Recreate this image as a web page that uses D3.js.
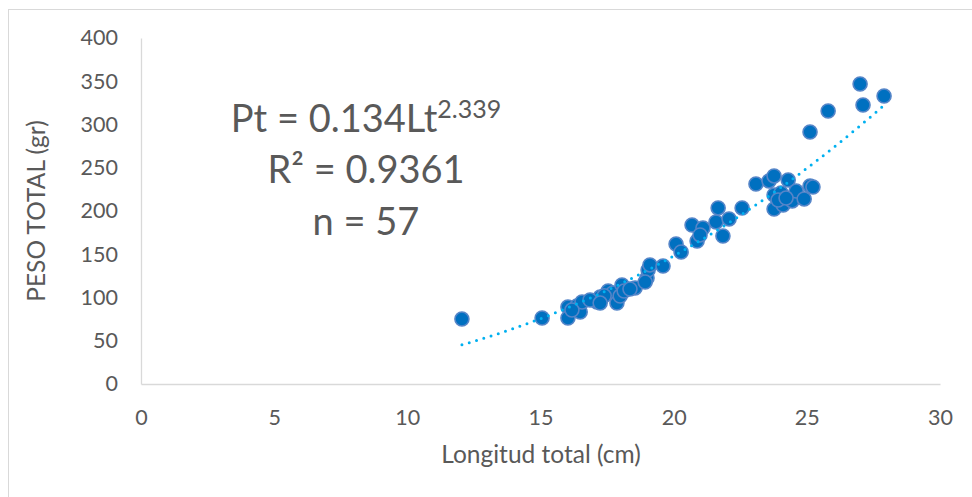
<!DOCTYPE html>
<html>
<head>
<meta charset="utf-8">
<script src="https://cdn.jsdelivr.net/npm/d3@7"></script>
<style>
  body { margin: 0; background: #fff; }
  text { font-family: Lato, "Open Sans", sans-serif; fill: #595959; }
</style>
</head>
<body>
<div id="chart"></div>
<script>
// longitud total (cm) and peso total (gr)
const longitud = [12.05, 15.06, 16.03, 16.03, 16.37, 16.49, 16.56, 17.12, 17.24, 17.54,
  17.72, 17.87, 17.99, 18.06, 18.14, 18.55, 19.0, 19.04, 19.11, 19.6,
  20.09, 20.28, 20.69, 20.88, 21.1, 21.59, 21.67, 21.85, 22.08, 22.57,
  23.09, 23.58, 23.77, 23.77, 23.77, 24.03, 24.11, 24.3, 24.45, 24.6,
  24.9, 25.12, 25.23, 25.12, 25.8, 27.0, 27.11, 27.9,
  16.18, 16.86, 17.39, 18.36, 18.93, 20.99, 23.92, 24.22, 17.24]
const peso = [75.1, 76.3, 89.0, 76.3, 90.2, 83.2, 94.8, 94.8, 100.6, 107.5,
  105.2, 93.6, 101.7, 114.5, 107.5, 111.0, 122.5, 131.8, 137.6, 136.4,
  161.8, 152.6, 183.8, 165.3, 180.3, 187.3, 203.5, 171.1, 190.8, 203.5,
  231.2, 234.7, 240.5, 202.3, 218.5, 220.8, 206.9, 235.8, 211.6, 223.1,
  213.9, 228.9, 227.7, 291.3, 315.6, 346.8, 322.5, 332.9,
  85.5, 97.1, 102.0, 109.8, 117.9, 172.3, 212.7, 215.0, 93.6]

const xTicks = [0, 5, 10, 15, 20, 25, 30]
const yTicks = [0, 50, 100, 150, 200, 250, 300, 350, 400]
const coefA = 0.134
const coefB = 2.339
const labels = ["R² = 0.9361", "n = 57"]

const width = 972
const height = 497
const margin = { left: 141, right: 32, top: 38, bottom: 113 }

const svg = d3.select('#chart').append('svg').attr('width', width).attr('height', height)

// chart area border
svg.append('rect')
  .attr('x', 8.5).attr('y', 9.5)
  .attr('width', 1000).attr('height', 1000)
  .attr('fill', 'none').attr('stroke', '#d9d9d9')

const xScale = d3.scaleLinear().domain([0, 30]).range([margin.left, width - margin.right])
const yScale = d3.scaleLinear().domain([0, 400]).range([height - margin.bottom, margin.top])

const xAxis = d3.axisBottom(xScale).tickValues(xTicks).tickSize(0).tickPadding(26)
const yAxis = d3.axisLeft(yScale).tickValues(yTicks).tickSize(0).tickPadding(23)

const gx = svg.append('g').attr('transform', 'translate(0,' + yScale(0) + ')').call(xAxis)
const gy = svg.append('g').attr('transform', 'translate(' + xScale(0) + ',0)').call(yAxis)
for (const g of [gx, gy]) {
  g.select('.domain').attr('stroke', '#d9d9d9').attr('stroke-width', 1.3)
  g.selectAll('text').attr('font-size', 21.5).attr('fill', '#595959')
    .style('font-family', 'Lato, sans-serif')
}

svg.append('text')
  .attr('x', 541).attr('y', 463)
  .attr('text-anchor', 'middle').attr('font-size', 24.5)
  .text('Longitud total (cm)')

svg.append('text')
  .attr('transform', 'translate(45,211) rotate(-90)')
  .attr('text-anchor', 'middle').attr('font-size', 24.5)
  .text('PESO TOTAL (gr)')

const data = longitud.map(function(d, i) { return { x: d, y: peso[i] } })

svg.append('g').selectAll('circle').data(data)
  .enter()
  .append('circle')
  .attr('cx', function(d) { return xScale(d.x) })
  .attr('cy', function(d) { return yScale(d.y) })
  .attr('r', 7)
  .attr('fill', '#0070c0')
  .attr('stroke', '#5585c8')
  .attr('stroke-width', 1.6)

// potential trend line
const xMin = d3.min(longitud)
const xMax = d3.max(longitud)
const trend = d3.range(0, 101).map(function(i) {
  const x = xMin + (xMax - xMin) * i / 100
  return { x: x, y: coefA * Math.pow(x, coefB) }
})
const line = d3.line()
  .x(function(d) { return xScale(d.x) })
  .y(function(d) { return yScale(d.y) })

svg.append('path')
  .datum(trend)
  .attr('d', line)
  .attr('fill', 'none')
  .attr('stroke', '#00b0f0')
  .attr('stroke-width', 3)
  .attr('stroke-linecap', 'round')
  .attr('stroke-dasharray', '0 7.6')

// equation label
const eq = svg.append('text')
  .attr('x', 366).attr('y', 132)
  .attr('text-anchor', 'middle').attr('font-size', 38)
eq.append('tspan').text('Pt = ' + coefA + 'Lt')
eq.append('tspan').attr('font-size', 25).attr('dy', -14).text(coefB)

svg.selectAll('.stat').data(labels)
  .enter()
  .append('text')
  .attr('class', 'stat')
  .attr('x', 366)
  .attr('y', function(d, i) { return 183 + i * 52 })
  .attr('text-anchor', 'middle').attr('font-size', 38)
  .text(function(d) { return d })
</script>
</body>
</html>
